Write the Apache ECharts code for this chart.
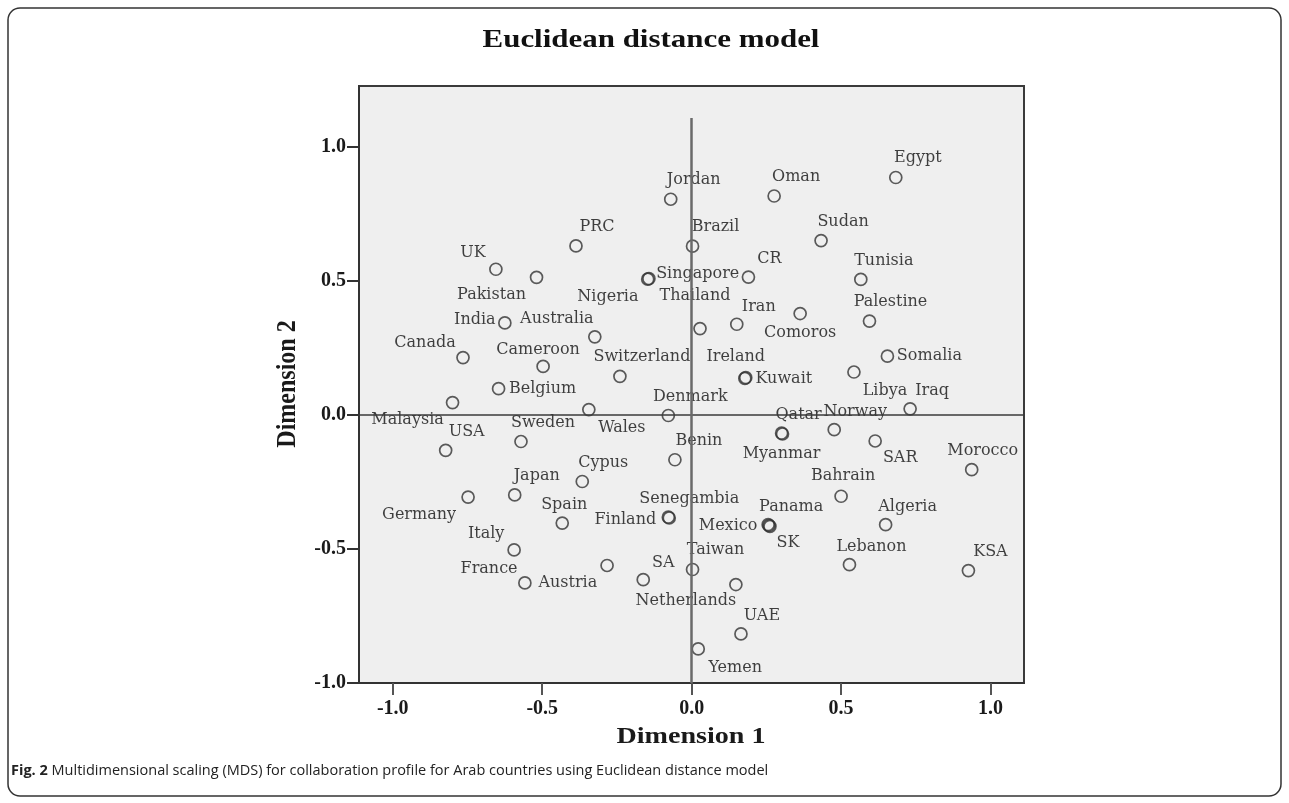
<!DOCTYPE html>
<html><head><meta charset="utf-8">
<script src="https://cdn.jsdelivr.net/npm/echarts@6/dist/echarts.min.js"></script>
<style>html,body{margin:0;padding:0;background:#fff}#c{width:1289px;height:803px}</style>
</head><body><div id="c"></div>
<script>
// ---- data ----
const countries = ["Egypt","Oman","Jordan","Sudan","PRC","Brazil","UK","Pakistan","CR","Tunisia",
  "Singapore","Nigeria","Comoros","Palestine","India","Iran","Thailand","Australia","Somalia","Canada",
  "Cameroon","Libya","Switzerland","Kuwait","Ireland","Belgium","Malaysia","Iraq","Wales","Denmark",
  "Norway","Qatar","Myanmar","SAR","Sweden","USA","Benin","Morocco","Cypus","Japan",
  "Bahrain","Germany","Finland","Senegambia","Spain","Algeria","Mexico","Panama","SK","Italy",
  "Lebanon","France","Taiwan","KSA","SA","Austria","Netherlands","UAE","Yemen"];
const dim1 = [0.683,0.276,-0.070,0.433,-0.387,0.003,-0.655,-0.519,0.190,0.566,
  -0.147,-0.143,0.363,0.595,-0.625,0.151,0.028,-0.324,0.655,-0.765,
  -0.497,0.543,-0.240,0.178,0.181,-0.646,-0.800,0.731,-0.344,-0.078,
  0.477,0.301,0.304,0.614,-0.571,-0.823,-0.056,0.937,-0.366,-0.592,
  0.500,-0.748,-0.078,-0.075,-0.433,0.649,0.259,0.256,0.262,-0.594,
  0.528,-0.283,0.003,0.926,-0.162,-0.558,0.148,0.165,0.022];
const dim2 = [0.884,0.815,0.803,0.649,0.629,0.628,0.542,0.512,0.513,0.504,
  0.505,0.507,0.377,0.349,0.342,0.337,0.321,0.290,0.218,0.213,
  0.180,0.159,0.143,0.135,0.138,0.097,0.045,0.022,0.019,-0.003,
  -0.056,-0.069,-0.072,-0.098,-0.100,-0.133,-0.168,-0.205,-0.249,-0.299,
  -0.304,-0.307,-0.382,-0.385,-0.404,-0.410,-0.413,-0.410,-0.416,-0.504,
  -0.559,-0.562,-0.577,-0.581,-0.615,-0.627,-0.633,-0.817,-0.873];
const xTicks = [-1.0,-0.5,0.0,0.5,1.0];
const yTicks = [-1.0,-0.5,0.0,0.5,1.0];
const titleText = 'Euclidean distance model';
const xName = 'Dimension 1';
const yName = 'Dimension 2';
const captionBold = 'Fig. 2';
const captionText = 'Multidimensional scaling (MDS) for collaboration profile for Arab countries using Euclidean distance model';

// ---- label placement (style only, pixel offsets of each label centre) ----
const labelOffset = {
  Egypt:[22,-20],Oman:[22,-19],Jordan:[23,-19],Sudan:[22,-19],PRC:[21,-19],Brazil:[23,-19],
  UK:[-23,-16],Pakistan:[-45,18],CR:[21,-18],Tunisia:[23,-19],Singapore:[50,-5],Nigeria:[-41,18],
  Comoros:[0,19],Palestine:[21,-19],India:[-30,-3],Iran:[22,-17],Thailand:[-5,-33],Australia:[-38,-18],
  Somalia:[42,0],Canada:[-38,-15],Cameroon:[-5,-17],Libya:[31,19],Switzerland:[22,-19],Kuwait:[39,0],
  Ireland:[-10,-21],Belgium:[44,0],Malaysia:[-45,17],Iraq:[22,-18],Wales:[33,18],Denmark:[22,-19],
  Norway:[21,-18],Qatar:[17,-18],Myanmar:[-1,20],SAR:[25,17],Sweden:[22,-19],USA:[21,-19],
  Benin:[24,-19],Morocco:[11,-19],Cypus:[21,-19],Japan:[22,-19],Bahrain:[2,-20],Germany:[-49,18],
  Finland:[-43,3],Senegambia:[20,-19],Spain:[2,-18],Algeria:[22,-18],Mexico:[-41,0],Panama:[23,-18],
  SK:[18,17],Italy:[-28,-16],Lebanon:[22,-18],France:[-118,3],Taiwan:[23,-20],KSA:[22,-19],
  SA:[20,-17],Austria:[43,0],Netherlands:[-50,16],UAE:[21,-18],Yemen:[37,19]
};

const points = countries.map((n,i)=>({
  name:n, value:[dim1[i],dim2[i]],
  label:{offset:labelOffset[n]||[22,-19]}
}));

const chart = echarts.init(document.getElementById('c'),null,{renderer:'canvas'});
const serif = 'Liberation Serif, Times New Roman, serif';
chart.setOption({
  animation:false,
  backgroundColor:'#ffffff',
  grid:{left:359,right:265,top:86,bottom:120,show:true,backgroundColor:'#efefef',borderColor:'#3a3a3a',borderWidth:2},
  xAxis:{
    type:'value',min:-1.113,max:1.112,
    splitLine:{show:false},
    axisLine:{show:true,onZero:false,lineStyle:{color:'#333',width:2}},
    axisTick:{show:true,customValues:xTicks,length:12,lineStyle:{color:'#555',width:2}},
    axisLabel:{customValues:xTicks,formatter:v=>v.toFixed(1),margin:16,
      fontFamily:serif,fontWeight:'bold',fontSize:20,color:'#1a1a1a'}
  },
  yAxis:{
    type:'value',min:-1.0,max:1.225,
    splitLine:{show:false},
    axisLine:{show:true,onZero:false,lineStyle:{color:'#333',width:2}},
    axisTick:{show:true,customValues:yTicks,length:12,lineStyle:{color:'#333',width:2}},
    axisLabel:{customValues:yTicks,formatter:v=>v.toFixed(1),margin:13,
      fontFamily:serif,fontWeight:'bold',fontSize:20,color:'#1a1a1a'}
  },
  series:[{
    type:'scatter',
    data:points,
    symbol:'circle',symbolSize:12,
    itemStyle:{color:'rgba(0,0,0,0)',borderColor:'#333',borderWidth:1.7},
    emphasis:{disabled:true},
    label:{show:true,position:'inside',formatter:p=>p.name,
      fontFamily:'DejaVu Serif, serif',fontSize:16,color:'#111'},
    markLine:{
      silent:true,symbol:'none',label:{show:false},
      data:[
        {yAxis:0,lineStyle:{color:'#3a3a3a',width:1.5,type:'solid'}},
        [{coord:[0,-1.0],lineStyle:{color:'#6a6a6a',width:2.5,type:'solid'}},{coord:[0,1.106]}]
      ]
    },
    z:3
  }],
  graphic:[
    {type:'rect',shape:{x:8,y:8,width:1273,height:788,r:12},style:{fill:'none',stroke:'#333',lineWidth:1.5},silent:true},
    {type:'text',x:651,y:40,scaleX:1.19,style:{text:titleText,textAlign:'center',textVerticalAlign:'middle',
      font:'bold 26px Liberation Serif, serif',fill:'#111'}},
    {type:'text',x:691,y:737,scaleX:1.17,style:{text:xName,textAlign:'center',textVerticalAlign:'middle',
      font:'bold 24px Liberation Serif, serif',fill:'#1a1a1a'}},
    {type:'text',x:288,y:384,rotation:Math.PI/2,scaleY:1.15,style:{text:yName,textAlign:'center',textVerticalAlign:'middle',
      font:'bold 24px Liberation Serif, serif',fill:'#1a1a1a'}},
    {type:'text',x:11,y:771,style:{text:'{b|'+captionBold+'} '+captionText,
      textVerticalAlign:'middle',fill:'#222',
      font:'14.5px Open Sans, sans-serif',
      rich:{b:{fontWeight:'bold',fontFamily:'Open Sans, sans-serif',fontSize:14.5,fill:'#222'}}}}
  ]
});
</script>
</body></html>
